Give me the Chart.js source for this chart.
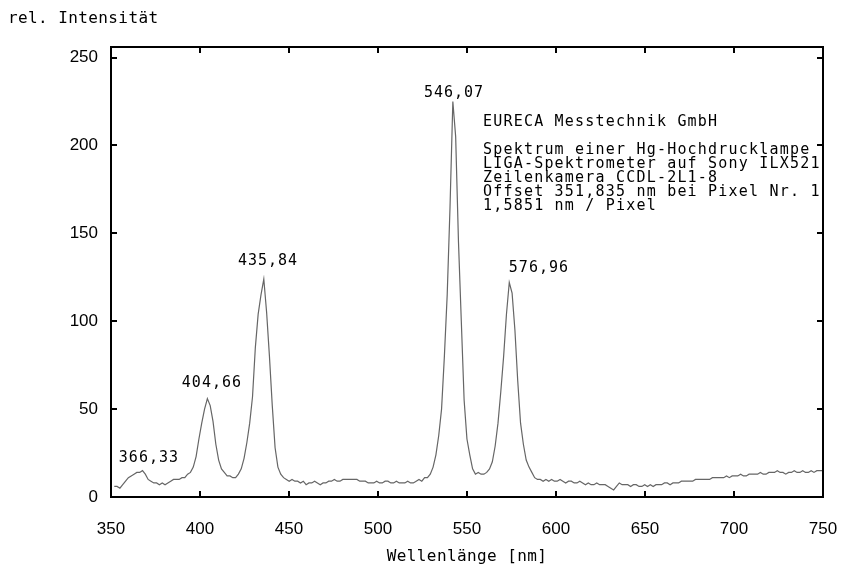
<!DOCTYPE html>
<html>
<head>
<meta charset="utf-8">
<script src="https://cdn.jsdelivr.net/npm/chart.js@4/dist/chart.umd.min.js"></script>
<style>
  html, body { margin: 0; padding: 0; background: #fff; }
</style>
</head>
<body>
<canvas id="spectrum" width="842" height="571"></canvas>
<script>
// Hg high pressure lamp, LIGA spectrometer, one value per sensor pixel
const OFFSET_NM = 351.835;
const NM_PER_PIXEL = 1.5851;

const intensity = [
  6, 6, 5, 7, 9, 11, 12, 13, 14, 14,
  15, 13, 10, 9, 8, 8, 7, 8, 7, 8,
  9, 10, 10, 10, 11, 11, 13, 14, 17, 23,
  33, 42, 50, 56, 52, 43, 30, 21, 16, 14,
  12, 12, 11, 11, 13, 16, 22, 31, 42, 57,
  85, 104, 115, 124, 105, 80, 52, 28, 17, 13,
  11, 10, 9, 10, 9, 9, 8, 9, 7, 8,
  8, 9, 8, 7, 8, 8, 9, 9, 10, 9,
  9, 10, 10, 10, 10, 10, 10, 9, 9, 9,
  8, 8, 8, 9, 8, 8, 9, 9, 8, 8,
  9, 8, 8, 8, 9, 8, 8, 9, 10, 9,
  11, 11, 13, 17, 24, 35, 50, 80, 115, 165,
  225, 205, 145, 100, 55, 33, 24, 16, 13, 14,
  13, 13, 14, 16, 20, 29, 42, 60, 80, 104,
  122, 116, 95, 66, 42, 30, 21, 17, 14, 11,
  10, 10, 9, 10, 9, 10, 9, 9, 10, 9,
  8, 9, 9, 8, 8, 9, 8, 7, 8, 7,
  7, 8, 7, 7, 7, 6, 5, 4, 6, 8,
  7, 7, 7, 6, 7, 7, 6, 6, 7, 6,
  7, 6, 7, 7, 7, 8, 8, 7, 8, 8,
  8, 9, 9, 9, 9, 9, 10, 10, 10, 10,
  10, 10, 11, 11, 11, 11, 11, 12, 11, 12,
  12, 12, 13, 12, 12, 13, 13, 13, 13, 14,
  13, 13, 14, 14, 14, 15, 14, 14, 13, 14,
  14, 15, 14, 14, 15, 14, 14, 15, 14, 15,
  15, 15
];

const xTicks = [350, 400, 450, 500, 550, 600, 650, 700, 750];
const yTicks = [0, 50, 100, 150, 200, 250];

// Hg line labels and where they sit (nm, intensity)
const lineLabels = ['366,33', '404,66', '435,84', '546,07', '576,96'];
const lineLabelNm = [371.3, 406.7, 438.2, 542.7, 590.4];
const lineLabelLevel = [22, 65, 134, 230, 130];

const infoLines = [
  'EURECA Messtechnik GmbH',
  '',
  'Spektrum einer Hg-Hochdrucklampe',
  'LIGA-Spektrometer auf Sony ILX521',
  'Zeilenkamera CCDL-2L1-8',
  'Offset 351,835 nm bei Pixel Nr. 1',
  '1,5851 nm / Pixel'
];

const points = intensity.map((v, i) => ({ x: OFFSET_NM + i * NM_PER_PIXEL, y: v }));

const MONO = '"DejaVu Sans Mono", monospace';

const annotations = {
  id: 'annotations',
  afterDraw(chart) {
    const { ctx, chartArea: a, scales: { x, y } } = chart;
    ctx.save();

    // frame with inward ticks on all four sides
    ctx.strokeStyle = '#000';
    ctx.lineWidth = 2;
    ctx.strokeRect(a.left, a.top, a.right - a.left, a.bottom - a.top);
    ctx.beginPath();
    xTicks.forEach(v => {
      const px = Math.round(x.getPixelForValue(v));
      ctx.moveTo(px, a.bottom); ctx.lineTo(px, a.bottom - 6);
      ctx.moveTo(px, a.top); ctx.lineTo(px, a.top + 6);
    });
    yTicks.forEach(v => {
      const py = Math.round(y.getPixelForValue(v));
      ctx.moveTo(a.left, py); ctx.lineTo(a.left + 6, py);
      ctx.moveTo(a.right, py); ctx.lineTo(a.right - 6, py);
    });
    ctx.stroke();

    ctx.fillStyle = '#000';
    ctx.textBaseline = 'middle';

    // line labels
    ctx.font = '15px ' + MONO;
    ctx.letterSpacing = '1px';
    ctx.textAlign = 'center';
    lineLabels.forEach((t, i) => {
      ctx.fillText(t, x.getPixelForValue(lineLabelNm[i]), y.getPixelForValue(lineLabelLevel[i]));
    });

    // info block
    ctx.font = '15px ' + MONO;
    ctx.letterSpacing = '1.2px';
    ctx.textAlign = 'left';
    infoLines.forEach((t, i) => {
      if (t) ctx.fillText(t, 483, 122 + i * 14);
    });

    // axis titles
    ctx.font = '16px ' + MONO;
    ctx.letterSpacing = '0.4px';
    ctx.textAlign = 'left';
    ctx.fillText('rel. Intensität', 8, 19);
    ctx.textAlign = 'center';
    ctx.fillText('Wellenlänge [nm]', (a.left + a.right) / 2, 557);

    ctx.restore();
  }
};

const tickFont = { family: '"Liberation Sans", Arial, sans-serif', size: 17 };

new Chart(document.getElementById('spectrum'), {
  type: 'line',
  data: {
    datasets: [{
      data: points,
      borderColor: '#666',
      borderWidth: 1.2,
      pointRadius: 0,
      tension: 0,
      fill: false
    }]
  },
  options: {
    responsive: false,
    animation: false,
    devicePixelRatio: 1,
    layout: { padding: { top: 47, right: 19, left: 0, bottom: 0 } },
    plugins: { legend: { display: false }, tooltip: { enabled: false } },
    scales: {
      x: {
        type: 'linear',
        min: 350,
        max: 750,
        afterBuildTicks: s => { s.ticks = xTicks.map(v => ({ value: v })); },
        afterFit: s => { s.height = 74; s.paddingLeft = 0; s.paddingRight = 0; },
        grid: { display: false, drawTicks: false },
        border: { display: false },
        ticks: { color: '#000', font: tickFont, padding: 22, maxRotation: 0 }
      },
      y: {
        min: 0,
        max: 256,
        afterBuildTicks: s => { s.ticks = yTicks.map(v => ({ value: v })); },
        afterFit: s => { s.width = 111; s.paddingTop = 0; s.paddingBottom = 0; },
        grid: { display: false, drawTicks: false },
        border: { display: false },
        ticks: { color: '#000', font: tickFont, padding: 13 }
      }
    }
  },
  plugins: [annotations]
});
</script>
</body>
</html>
